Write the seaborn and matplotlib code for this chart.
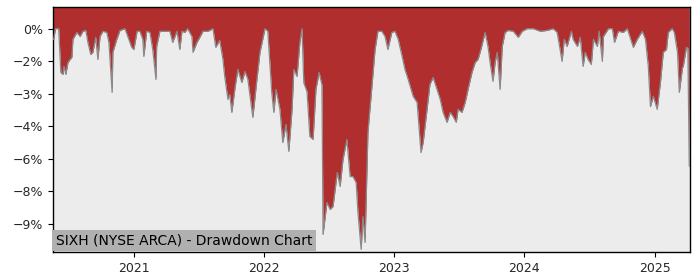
import matplotlib
matplotlib.use("Agg")
import matplotlib.pyplot as plt
import matplotlib.dates as mdates
from matplotlib.ticker import MultipleLocator, FuncFormatter
import seaborn as sns
import pandas as pd

title_text = "SIXH (NYSE ARCA) - Drawdown Chart"

dates = [
    "2020-05-18", "2020-05-20", "2020-05-25", "2020-06-03", "2020-06-09", "2020-06-15", "2020-06-18",
    "2020-06-23", "2020-06-29", "2020-07-05", "2020-07-10", "2020-07-13", "2020-07-24", "2020-08-02",
    "2020-08-10", "2020-08-18", "2020-08-24", "2020-09-01", "2020-09-07", "2020-09-15", "2020-09-21",
    "2020-09-27", "2020-10-05", "2020-10-16", "2020-10-22", "2020-10-31", "2020-11-02", "2020-11-13",
    "2020-11-22", "2020-12-06", "2020-12-14", "2020-12-25", "2020-12-31", "2021-01-09", "2021-01-17",
    "2021-01-25", "2021-01-28", "2021-02-05", "2021-02-14", "2021-02-22", "2021-03-03", "2021-03-05",
    "2021-03-14", "2021-03-28", "2021-04-11", "2021-04-19", "2021-05-01", "2021-05-09", "2021-05-15",
    "2021-05-23", "2021-05-31", "2021-06-12", "2021-06-15", "2021-06-26", "2021-07-04", "2021-07-13",
    "2021-07-27", "2021-08-10", "2021-08-18", "2021-08-29", "2021-09-07", "2021-09-12", "2021-09-21",
    "2021-09-26", "2021-10-02", "2021-10-11", "2021-10-19", "2021-10-30", "2021-11-08", "2021-11-16",
    "2021-11-30", "2021-12-11", "2021-12-20", "2022-01-03", "2022-01-11", "2022-01-22", "2022-01-28",
    "2022-02-03", "2022-02-14", "2022-02-22", "2022-03-03", "2022-03-11", "2022-03-20", "2022-03-25",
    "2022-04-03", "2022-04-11", "2022-04-17", "2022-04-22", "2022-05-01", "2022-05-09", "2022-05-18",
    "2022-05-26", "2022-06-04", "2022-06-12", "2022-06-15", "2022-06-26", "2022-07-05", "2022-07-13",
    "2022-07-25", "2022-08-02", "2022-08-10", "2022-08-21", "2022-08-30", "2022-09-07", "2022-09-16",
    "2022-09-21", "2022-09-30", "2022-10-05", "2022-10-11", "2022-10-19", "2022-10-30", "2022-11-08",
    "2022-11-16", "2022-11-27", "2022-12-06", "2022-12-14", "2022-12-25", "2023-01-03", "2023-01-12",
    "2023-01-23", "2023-01-31", "2023-02-09", "2023-02-23", "2023-03-06", "2023-03-17", "2023-03-23",
    "2023-04-03", "2023-04-11", "2023-04-20", "2023-05-01", "2023-05-10", "2023-05-18", "2023-05-29",
    "2023-06-07", "2023-06-15", "2023-06-24", "2023-06-29", "2023-07-10", "2023-07-19", "2023-07-27",
    "2023-08-07", "2023-08-16", "2023-08-24", "2023-09-01", "2023-09-13", "2023-09-21", "2023-09-27",
    "2023-10-05", "2023-10-11", "2023-10-17", "2023-10-25", "2023-10-31", "2023-11-08", "2023-11-17",
    "2023-12-01", "2023-12-15", "2023-12-26", "2024-01-09", "2024-01-26", "2024-02-15", "2024-03-05",
    "2024-03-22", "2024-04-02", "2024-04-08", "2024-04-16", "2024-04-22", "2024-04-30", "2024-05-12",
    "2024-05-17", "2024-05-29", "2024-06-06", "2024-06-14", "2024-06-20", "2024-06-28", "2024-07-07",
    "2024-07-13", "2024-07-24", "2024-07-29", "2024-08-07", "2024-08-10", "2024-08-24", "2024-09-04",
    "2024-09-10", "2024-09-21", "2024-10-05", "2024-10-16", "2024-10-24", "2024-11-02", "2024-11-13",
    "2024-11-27", "2024-12-06", "2024-12-14", "2024-12-20", "2024-12-28", "2025-01-08", "2025-01-17",
    "2025-01-25", "2025-02-03", "2025-02-08", "2025-02-19", "2025-02-25", "2025-03-06", "2025-03-11",
    "2025-03-20", "2025-03-22", "2025-03-31", "2025-04-04", "2025-04-08",
]

drawdown_pct = [
    -0.50, -0.49, 0.00, 0.00, -2.02, -2.11, -1.74,
    -2.11, -1.56, -1.42, -1.32, -0.49, -0.17, -0.36,
    -0.12, -0.08, -0.63, -1.19, -1.09, -0.40, -1.42,
    -0.36, -0.12, -0.17, -0.63, -2.94, -1.09, -0.49,
    -0.08, 0.00, -0.36, -0.86, -0.96, -0.12, -0.12,
    -0.49, -1.28, -0.12, -0.17, -0.96, -2.34, -0.82,
    -0.12, -0.12, -0.12, -0.63, -0.12, -0.96, -0.12,
    -0.17, 0.00, -0.36, -1.09, -0.63, -0.40, -0.12,
    -0.12, 0.00, -0.86, -0.54, -1.42, -2.20, -3.26,
    -3.03, -3.86, -2.71, -1.88, -2.48, -1.97, -2.34,
    -4.09, -2.40, -1.09, 0.00, -0.12, -2.94, -3.86,
    -2.80, -3.72, -5.25, -4.42, -5.66, -3.72, -1.88,
    -2.20, -0.63, 0.00, -2.50, -2.90, -4.97, -5.11,
    -2.80, -2.02, -2.60, -9.49, -8.02, -8.34, -8.20,
    -6.63, -7.28, -6.03, -5.11, -6.82, -6.82, -7.10,
    -8.48, -10.18, -8.66, -9.86, -4.79, -2.70, -0.96,
    -0.12, -0.12, -0.36, -0.96, -0.17, -0.12, -0.49,
    -1.28, -1.88, -2.34, -3.12, -3.40, -5.71, -5.25,
    -3.72, -2.57, -2.25, -2.80, -3.26, -3.86, -4.32,
    -3.86, -4.05, -4.32, -3.72, -3.86, -3.40, -2.80,
    -2.02, -1.56, -1.42, -0.96, -0.17, -0.82, -1.56,
    -2.43, -1.56, -1.09, -2.80, -0.82, -0.17, -0.08,
    -0.12, -0.40, -0.12, 0.00, 0.00, -0.12, -0.08,
    0.00, -0.17, -0.72, -1.51, -0.49, -0.82, -0.12,
    -0.49, -0.82, -0.40, -1.74, -1.09, -1.42, -1.65,
    -0.49, -0.82, -0.12, -1.51, -0.36, 0.00, 0.00,
    -0.63, -0.12, -0.17, 0.00, -0.40, -0.86, -0.49,
    -0.12, -0.49, -1.74, -3.59, -3.12, -3.72, -2.48,
    -1.09, -0.96, -0.17, 0.00, -0.17, -1.09, -2.94,
    -1.79, -1.74, -0.86, -0.90, -6.35,
]

df = pd.DataFrame({"date": pd.to_datetime(dates), "drawdown": drawdown_pct})

sns.set_style("white")
plt.rcParams["font.family"] = ["DejaVu Sans"]

fig = plt.figure(figsize=(7, 2.8), dpi=100)
ax = fig.add_axes([0.0757, 0.1, 0.91, 0.875])
ax.set_facecolor("#ececec")

top = 1.0
ax.fill_between(df["date"], df["drawdown"], top, color="#b02e2e", linewidth=0, zorder=2)
sns.lineplot(data=df, x="date", y="drawdown", ax=ax, color="#8a8a8a", linewidth=0.9, zorder=3)

ax.set_ylim(-10.3, top)
ax.set_xlim(df["date"].iloc[0], df["date"].iloc[-1] + pd.Timedelta(days=2))

ax.yaxis.set_major_locator(MultipleLocator(1.5))
ax.yaxis.set_major_formatter(FuncFormatter(lambda v, p: (f"{v:.0f}%").replace("-", "\u2212")))
ax.xaxis.set_major_locator(mdates.YearLocator())
ax.xaxis.set_major_formatter(mdates.DateFormatter("%Y"))
ax.set_xlabel("")
ax.set_ylabel("")
ax.tick_params(axis="both", labelsize=9, length=3.5, width=0.8, color="black", direction="out",
               left=True, bottom=True)
for s in ax.spines.values():
    s.set_visible(True)
    s.set_color("black")
    s.set_linewidth(1.0)

ax.text(0.004, 0.018, title_text, transform=ax.transAxes, fontsize=10, color="black",
        ha="left", va="bottom", zorder=5,
        bbox=dict(facecolor="#b0b0b0", edgecolor="none", pad=2.5))

fig.savefig("out.png", dpi=100)
